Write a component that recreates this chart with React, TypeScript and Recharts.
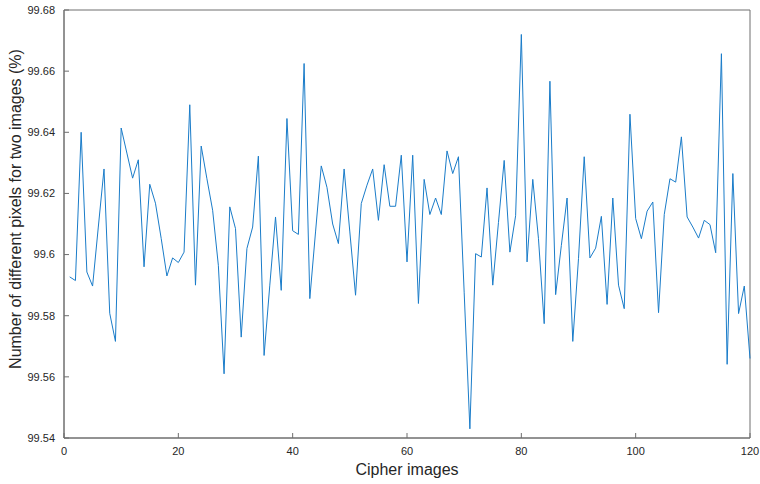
import { LineChart, Line, XAxis, YAxis, Label, ReferenceArea } from 'recharts';

const npcr = [
  99.5927, 99.5915, 99.640, 99.5943, 99.5897, 99.609, 99.628, 99.5808, 99.5716, 99.6414,
  99.6332, 99.625, 99.631, 99.596, 99.623, 99.6168, 99.6053, 99.593, 99.5989, 99.5974,
  99.6008, 99.649, 99.590, 99.6355, 99.6248, 99.6145, 99.5965, 99.561, 99.6156, 99.6085,
  99.573, 99.602, 99.609, 99.6322, 99.567, 99.590, 99.6123, 99.5883, 99.6445, 99.6078,
  99.6066, 99.6625, 99.5856, 99.6074, 99.629, 99.622, 99.610, 99.6036, 99.628, 99.6074,
  99.5867, 99.6167, 99.6227, 99.628, 99.6112, 99.6294, 99.6158, 99.6158, 99.6325, 99.5976,
  99.6325, 99.584, 99.6246, 99.6131, 99.6185, 99.6131, 99.6339, 99.6265, 99.632, 99.5877,
  99.543, 99.6003, 99.5992, 99.6218, 99.590, 99.6105, 99.6308, 99.6008, 99.6127, 99.672,
  99.5976, 99.6246, 99.6052, 99.5774, 99.6567, 99.5869, 99.603, 99.6185, 99.5716, 99.5987,
  99.632, 99.5989, 99.6021, 99.6125, 99.5837, 99.6185, 99.590, 99.5823, 99.6459, 99.6118,
  99.6052, 99.6142, 99.6172, 99.581, 99.6131, 99.6248, 99.6237, 99.6385, 99.6123, 99.609,
  99.6054, 99.6112, 99.6098, 99.6006, 99.6657, 99.5641, 99.6265, 99.5807, 99.5897, 99.566,
];

const xTicks = [0, 20, 40, 60, 80, 100, 120];
const yTicks = [99.54, 99.56, 99.58, 99.6, 99.62, 99.64, 99.66, 99.68];

const data = npcr.map((v, i) => ({ img: i + 1, v }));

const FONT = '"Liberation Sans", Arial, sans-serif';
const AXIS = '#6e6e6e';
const tickStyle = { fontSize: 11, fill: '#262626', fontFamily: FONT };
const lineStyle = { stroke: AXIS, strokeWidth: 1 };
const fmt = (v: number) => String(Number(v.toFixed(2)));

const YTitle = () => (
  <text
    x={15}
    y={209}
    transform="rotate(-90, 15, 209)"
    textAnchor="middle"
    dominantBaseline="central"
    fontSize={16}
    fill="#262626"
    fontFamily={FONT}
  >
    Number of different pixels for two images (%)
  </text>
);

const XTitle = () => (
  <text x={407} y={475} textAnchor="middle" fontSize={16} fill="#262626" fontFamily={FONT}>
    Cipher images
  </text>
);

export default function App() {
  return (
    <div style={{ position: 'absolute', left: 0, top: 0, background: '#fff' }}>
      <LineChart width={760} height={484} data={data} margin={{ top: 10, right: 10, left: 0, bottom: 0 }}>
        <ReferenceArea
          x1={0}
          x2={120}
          y1={99.54}
          y2={99.68}
          fill="none"
          stroke={AXIS}
          strokeWidth={1}
          ifOverflow="extendDomain"
        />
        <XAxis
          dataKey="img"
          type="number"
          domain={[0, 120]}
          ticks={xTicks}
          height={46}
          tickSize={-5}
          tickMargin={14}
          tick={tickStyle}
          axisLine={lineStyle}
          tickLine={lineStyle}
          interval={0}
        >
          <Label content={<XTitle />} />
        </XAxis>
        <XAxis
          xAxisId="top"
          orientation="top"
          dataKey="img"
          type="number"
          domain={[0, 120]}
          ticks={xTicks}
          height={0}
          tickSize={-5}
          tick={() => null}
          axisLine={lineStyle}
          tickLine={lineStyle}
          interval={0}
        />
        <YAxis
          type="number"
          domain={[99.54, 99.68]}
          ticks={yTicks}
          width={64}
          tickSize={-5}
          tickMargin={14}
          tick={tickStyle}
          tickFormatter={fmt}
          axisLine={lineStyle}
          tickLine={lineStyle}
          interval={0}
          allowDataOverflow
        >
          <Label content={<YTitle />} />
        </YAxis>
        <YAxis
          yAxisId="right"
          orientation="right"
          type="number"
          domain={[99.54, 99.68]}
          ticks={yTicks}
          width={0}
          tickSize={-5}
          tick={() => null}
          axisLine={lineStyle}
          tickLine={lineStyle}
          interval={0}
          allowDataOverflow
        />
        <Line
          type="linear"
          dataKey="v"
          stroke="#1a7cc9"
          strokeWidth={1}
          dot={false}
          isAnimationActive={false}
        />
      </LineChart>
    </div>
  );
}
